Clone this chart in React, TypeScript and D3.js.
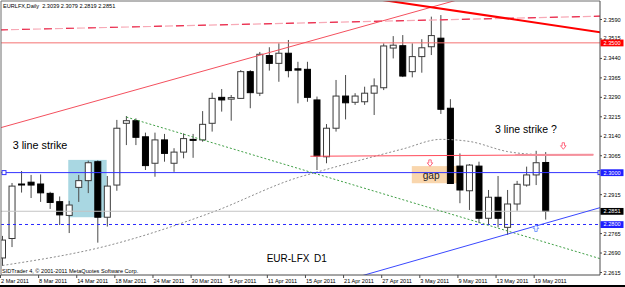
import React from "react";
import * as d3 from "d3";

// ---------- data ----------
const dates = [
  "2 Mar", "3 Mar", "4 Mar", "7 Mar", "8 Mar", "9 Mar", "10 Mar", "11 Mar", "14 Mar", "15 Mar",
  "16 Mar", "17 Mar", "18 Mar", "21 Mar", "22 Mar", "23 Mar", "24 Mar", "25 Mar", "28 Mar", "29 Mar",
  "30 Mar", "31 Mar", "1 Apr", "4 Apr", "5 Apr", "6 Apr", "7 Apr", "8 Apr", "11 Apr", "12 Apr",
  "13 Apr", "14 Apr", "15 Apr", "18 Apr", "19 Apr", "20 Apr", "21 Apr", "22 Apr", "25 Apr", "26 Apr",
  "27 Apr", "28 Apr", "29 Apr", "2 May", "3 May", "4 May", "5 May", "6 May", "9 May", "10 May",
  "11 May", "12 May", "13 May", "16 May", "17 May", "18 May", "19 May", "20 May",
];

const opens = [
  2.2671, 2.2746, 2.2956, 2.2963, 2.2956, 2.2920, 2.2888, 2.2835, 2.2943, 2.2969,
  2.3042, 2.2828, 2.2952, 2.3190, 2.3200, 2.3138, 2.3036, 2.3126, 2.3036, 2.3079,
  2.3128, 2.3126, 2.3190, 2.3290, 2.3283, 2.3286, 2.3389, 2.3306, 2.3451, 2.3421,
  2.3460, 2.3400, 2.3398, 2.3280, 2.3061, 2.3171, 2.3295, 2.3271, 2.3273, 2.3306,
  2.3327, 2.3480, 2.3489, 2.3389, 2.3447, 2.3485, 2.3518, 2.3248, 2.3025, 2.2930,
  2.3025, 2.2824, 2.2905, 2.2789, 2.2879, 2.2952, 2.2991, 2.3039,
];
const highs = [
  2.2756, 2.2960, 2.3006, 2.2991, 2.2993, 2.2926, 2.2908, 2.2891, 2.2991, 2.3046,
  2.3047, 2.2987, 2.3203, 2.3218, 2.3209, 2.3154, 2.3154, 2.3149, 2.3094, 2.3151,
  2.3149, 2.3237, 2.3308, 2.3322, 2.3299, 2.3395, 2.3395, 2.3465, 2.3483, 2.3498,
  2.3511, 2.3427, 2.3427, 2.3293, 2.3187, 2.3357, 2.3376, 2.3306, 2.3331, 2.3363,
  2.3498, 2.3526, 2.3530, 2.3498, 2.3514, 2.3601, 2.3607, 2.3283, 2.3074, 2.3033,
  2.3042, 2.2933, 2.2987, 2.2933, 2.2968, 2.3023, 2.3084, 2.3079,
];
const lows = [
  2.2640, 2.2713, 2.2923, 2.2902, 2.2887, 2.2860, 2.2798, 2.2767, 2.2887, 2.2921,
  2.2730, 2.2792, 2.2930, 2.3106, 2.3106, 2.3010, 2.2984, 2.3042, 2.3003, 2.3055,
  2.3057, 2.3119, 2.3158, 2.3235, 2.3200, 2.3284, 2.3248, 2.3295, 2.3393, 2.3350,
  2.3367, 2.3267, 2.3273, 2.3010, 2.3036, 2.3158, 2.3205, 2.3261, 2.3261, 2.3222,
  2.3318, 2.3440, 2.3368, 2.3367, 2.3385, 2.3453, 2.3226, 2.2956, 2.2882, 2.2856,
  2.2805, 2.2798, 2.2789, 2.2760, 2.2853, 2.2946, 2.2952, 2.2819,
];
const closes = [
  2.2740, 2.2948, 2.2953, 2.2952, 2.2922, 2.2885, 2.2837, 2.2875, 2.2969, 2.3038,
  2.2828, 2.2948, 2.3171, 2.3200, 2.3136, 2.3027, 2.3126, 2.3074, 2.3079, 2.3131,
  2.3126, 2.3186, 2.3286, 2.3280, 2.3289, 2.3389, 2.3308, 2.3456, 2.3421, 2.3460,
  2.3393, 2.3395, 2.3290, 2.3064, 2.3171, 2.3295, 2.3269, 2.3295, 2.3306, 2.3334,
  2.3488, 2.3491, 2.3372, 2.3447, 2.3481, 2.3528, 2.3244, 2.2958, 2.2933, 2.3029,
  2.2824, 2.2905, 2.2824, 2.2879, 2.2955, 2.2991, 2.3038, 2.2851,
];

// long moving average (gray dotted), sampled at bar indices
const maIdx = [0, 11, 22, 31, 33, 42, 46, 49, 53, 57];
const maVals = [2.2642, 2.2718, 2.2847, 2.2981, 2.3002, 2.3091, 2.3128, 2.3120, 2.3081, 2.3068];

const xTickIdx = [0, 4, 8, 12, 16, 20, 24, 28, 32, 36, 40, 44, 48, 52, 56];
const xTickLabels = [
  "2 Mar 2011", "8 Mar 2011", "14 Mar 2011", "18 Mar 2011", "24 Mar 2011", "30 Mar 2011",
  "5 Apr 2011", "11 Apr 2011", "15 Apr 2011", "21 Apr 2011", "27 Apr 2011", "3 May 2011",
  "9 May 2011", "13 May 2011", "19 May 2011",
];
// price scale labels (2.2990 and 2.2840 sit under the level boxes in the reference)
const yTicks = [
  2.3590, 2.3515, 2.3440, 2.3365, 2.3290, 2.3215, 2.3140, 2.3065, 2.2915,
  2.2765, 2.2690, 2.2615,
];

// horizontal price levels
const levelPrices = [2.3500, 2.3000, 2.2851, 2.2800];

// trend lines: anchor (bar index, price) pairs
const trendA = [
  [0, 2.3550], [0, 2.3175], [41, 2.3659], [13, 2.3214], [39, 2.2616], [32.3, 2.3063],
];
const trendB = [
  [57, 2.3598], [40, 2.3586], [57, 2.3572], [57, 2.2731], [57, 2.2805], [62, 2.3069],
];

// rectangles: [i1, i2, priceLow, priceHigh]
const strikeBox = [6.9, 10.93, 2.2828, 2.3049];
const gapBox = [42.95, 48.3, 2.2959, 2.3025];

const lastOHLC = "2.3039 2.3079 2.2819 2.2851";

// ---------- layout ----------
const W = 625;
const H = 287;
const PL = 1;
const PT = 1;
const PR = 600;
const PB = 275;
const FONT = "'Liberation Sans', Arial, sans-serif";
const SMALL = 5.6;

export default function App() {
  const x = d3.scaleLinear().domain([0, 57]).range([2.5, 545.7]);
  const y = d3.scaleLinear().domain([2.2615, 2.359]).range([272.5, 19.5]);

  const seg = (k: number, extL: boolean, extR: boolean) => {
    let x1 = x(trendA[k][0]);
    let y1 = y(trendA[k][1]);
    let x2 = x(trendB[k][0]);
    let y2 = y(trendB[k][1]);
    const s = (y2 - y1) / (x2 - x1);
    if (extL) {
      y1 = y1 + (PL - 1 - x1) * s;
      x1 = PL - 1;
    }
    if (extR) {
      y2 = y2 + (PR + 1 - x2) * s;
      x2 = PR + 1;
    }
    return { x1, y1, x2, y2 };
  };

  const maLine = d3
    .line<number>()
    .x((d) => x(d))
    .y((_, i) => y(maVals[i]))
    .curve(d3.curveMonotoneX);

  const downArrow = (cx: number, top: number) =>
    `M${cx - 1.2},${top} L${cx + 1.2},${top} L${cx + 1.2},${top + 3} L${cx + 2.8},${top + 3} L${cx},${top + 6.5} L${cx - 2.8},${top + 3} L${cx - 1.2},${top + 3} Z`;
  const upArrow = (cx: number, top: number) =>
    `M${cx},${top} L${cx + 2.8},${top + 3.5} L${cx + 1.2},${top + 3.5} L${cx + 1.2},${top + 6.5} L${cx - 1.2},${top + 6.5} L${cx - 1.2},${top + 3.5} L${cx - 2.8},${top + 3.5} Z`;

  const t0 = seg(0, true, true);
  const t1 = seg(1, true, true);
  const t2 = seg(2, true, true);
  const t3 = seg(3, false, true);
  const t4 = seg(4, true, true);
  const t5 = seg(5, false, false);

  const labelBoxes = [
    { p: levelPrices[0], bg: "#ff0000", fg: "#ffffff" },
    { p: levelPrices[1], bg: "#2020ff", fg: "#ffffff" },
    { p: levelPrices[2], bg: "#000000", fg: "#ffffff" },
    { p: levelPrices[3], bg: "#2020ff", fg: "#ffffff" },
  ];

  return (
    <svg
      width={W}
      height={H}
      style={{ position: "absolute", left: 0, top: 0, display: "block" }}
      fontFamily={FONT}
    >
      <defs>
        <clipPath id="plot">
          <rect x={PL} y={PT} width={PR - PL} height={PB - PT} />
        </clipPath>
      </defs>
      <rect x={0} y={0} width={W} height={H} fill="#ffffff" />

      <g clipPath="url(#plot)">
        {/* background rectangles */}
        <rect
          x={x(strikeBox[0])}
          y={y(strikeBox[3])}
          width={x(strikeBox[1]) - x(strikeBox[0])}
          height={y(strikeBox[2]) - y(strikeBox[3])}
          fill="#a9d7e2"
        />
        <rect
          x={x(gapBox[0])}
          y={y(gapBox[3])}
          width={x(gapBox[1]) - x(gapBox[0])}
          height={y(gapBox[2]) - y(gapBox[3])}
          fill="#f9d6ad"
        />

        {/* candles */}
        {dates.map((d, i) => {
          const o = opens[i];
          const c = closes[i];
          const cx = x(i);
          const top = y(Math.max(o, c));
          const bot = y(Math.min(o, c));
          const up = c > o;
          return (
            <g key={d}>
              <line x1={cx} x2={cx} y1={y(highs[i])} y2={y(lows[i])} stroke="#4a4a4a" strokeWidth={1} />
              <rect
                x={cx - 3}
                y={top}
                width={6}
                height={Math.max(1, bot - top)}
                fill={up ? "#ffffff" : "#000000"}
                stroke={up ? "#3a3a3a" : "#000000"}
                strokeWidth={1}
              />
            </g>
          );
        })}

        {/* gray long moving average */}
        <path d={maLine(maIdx) || ""} fill="none" stroke="#8c8c8c" strokeWidth={1} strokeDasharray="2 2" />

        {/* horizontal levels */}
        <line x1={PL} x2={PR} y1={y(levelPrices[0])} y2={y(levelPrices[0])} stroke="#f47272" strokeWidth={1} />
        <line x1={PL} x2={PR} y1={y(levelPrices[1])} y2={y(levelPrices[1])} stroke="#3333ff" strokeWidth={1} />
        <line x1={PL} x2={PR} y1={y(levelPrices[2])} y2={y(levelPrices[2])} stroke="#c4c4c4" strokeWidth={1} />
        <line
          x1={PL}
          x2={PR}
          y1={y(levelPrices[3])}
          y2={y(levelPrices[3])}
          stroke="#2a2aff"
          strokeWidth={1}
          strokeDasharray="3 3"
        />
        <rect x={2} y={y(levelPrices[1]) - 2} width={4} height={4} fill="#ffffff" stroke="#3333ff" strokeWidth={1} />
        <rect x={PR - 2} y={y(levelPrices[1]) - 2} width={4} height={4} fill="#ffffff" stroke="#3333ff" strokeWidth={1} />

        {/* trend lines */}
        <line {...t0} stroke="#f7a9b6" strokeWidth={1.2} strokeDasharray="8 3" />
        <line {...t0} stroke="#ea2f4f" strokeWidth={1.2} strokeDasharray="8 14" />
        <line {...t1} stroke="#f4505e" strokeWidth={1} />
        <line {...t2} stroke="#ff0000" strokeWidth={2} />
        <line {...t3} stroke="#3f9f45" strokeWidth={1} strokeDasharray="2 2" />
        <line {...t4} stroke="#3a48ff" strokeWidth={1} />
        <line {...t5} stroke="#ff4a5a" strokeWidth={1} />
        <line x1={x(53.8)} x2={t5.x2} y1={y(2.30675)} y2={t5.y2} stroke="#f4909c" strokeWidth={2} />

        {/* arrows */}
        <path d={downArrow(x(44.86), y(2.3049))} fill="#ffffff" stroke="#ff6a80" strokeWidth={1} />
        <path d={downArrow(x(58.85), y(2.3115))} fill="#ffffff" stroke="#ff6a80" strokeWidth={1} />
        <path d={upArrow(x(55.98), y(2.2798))} fill="#ffffff" stroke="#7a9cff" strokeWidth={1} />

        {/* annotations */}
        <text x={x(1.07)} y={y(2.309)} fontSize={10.8} fill="#000">3 line strike</text>
        <text x={x(51.68)} y={y(2.3151)} fontSize={10.5} fill="#000">3 line strike ?</text>
        <text x={x(44.09)} y={y(2.2975)} fontSize={10.2} fill="#222">gap</text>
        <text x={x(27.72)} y={y(2.2657)} fontSize={10} fill="#000">EUR-LFX</text>
        <text x={x(32.69)} y={y(2.2657)} fontSize={10} fill="#000">D1</text>

        <text x={2} y={273.3} fontSize={SMALL} fill="#000">
          SIDTrader 4, © 2001-2011 MetaQuotes Software Corp.
        </text>
        <text x={3} y={8.3} fontSize={SMALL} fill="#000" style={{ whiteSpace: "pre" }}>
          {"EURLFX,Daily  " + lastOHLC}
        </text>
      </g>

      {/* frame */}
      <line x1={PL} x2={PR} y1={PT} y2={PT} stroke="#6e6e6e" strokeWidth={1} />
      <line x1={PL} x2={PL} y1={PT} y2={PB} stroke="#6e6e6e" strokeWidth={1} />
      <line x1={PR} x2={PR} y1={PT} y2={PB} stroke="#4a4a4a" strokeWidth={1} />
      <line x1={PL} x2={PR} y1={PB} y2={PB} stroke="#4a4a4a" strokeWidth={1} />

      {/* right axis */}
      {yTicks.map((p) => (
        <g key={p}>
          <line x1={PR} x2={PR + 2} y1={y(p)} y2={y(p)} stroke="#4a4a4a" />
          <text x={603.5} y={Math.abs(p - 2.3515) < 1e-6 ? y(p) + 0.6 : y(p) + 2} fontSize={SMALL} fill="#000">
            {p.toFixed(4)}
          </text>
        </g>
      ))}
      {labelBoxes.map((b) => (
        <g key={b.p}>
          <rect x={600.5} y={y(b.p) - 3.3} width={23} height={6.8} fill={b.bg} />
          <text x={603.5} y={y(b.p) + 2} fontSize={SMALL} fill={b.fg}>
            {b.p.toFixed(4)}
          </text>
        </g>
      ))}

      {/* bottom axis */}
      {xTickIdx.map((idx, k) => (
        <g key={idx}>
          <line x1={x(idx) - 2} x2={x(idx) - 2} y1={PB} y2={PB + 3} stroke="#4a4a4a" />
          <text x={x(idx) - 1.5} y={282.8} fontSize={SMALL} fill="#000">
            {xTickLabels[k]}
          </text>
        </g>
      ))}

      <rect x={0} y={285} width={W} height={2} fill="#000" />
    </svg>
  );
}
